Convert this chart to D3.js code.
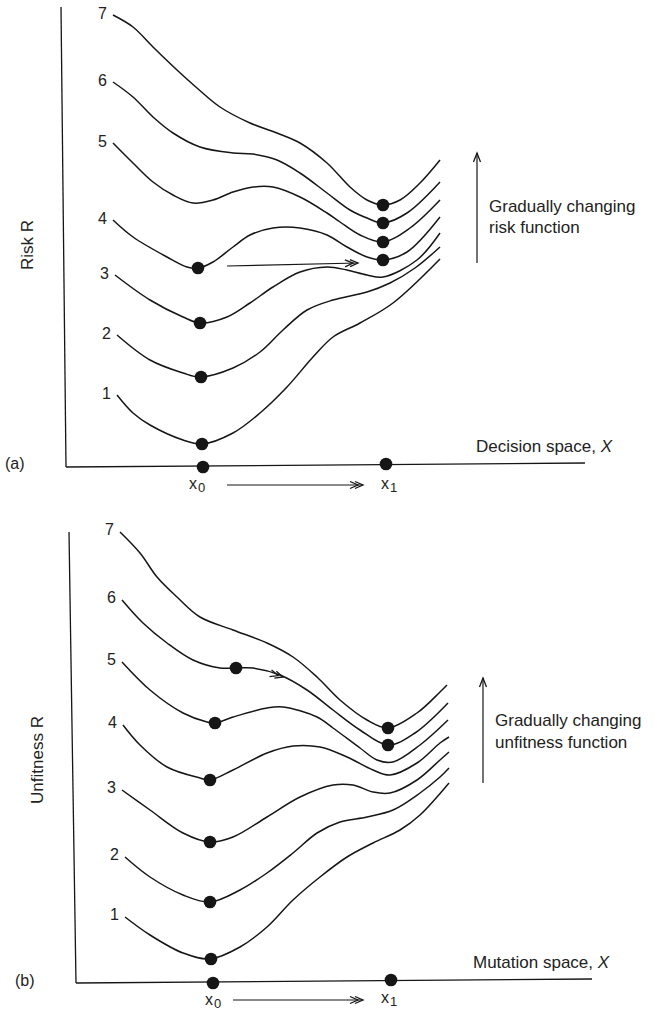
<!DOCTYPE html>
<html><head><meta charset="utf-8">
<script src="https://cdn.jsdelivr.net/npm/d3@7"></script>
<style>
body{margin:0;background:#fff;}
text{font-family:"Liberation Sans",Arial,Helvetica,sans-serif;fill:#222;}
</style></head><body>
<svg id="chart" width="655" height="1012"></svg>
<script>
// ---------- DATA (X along decision/mutation space, R = risk/unfitness) ----------
const curveLabels = ["1","2","3","4","5","6","7"];

// Panel (a): risk functions
const riskCurve1 = [[52,72],[68,54],[85,42],[118,27],[137,23],[168,34],[195,54],[222,80],[248,110],[268,130],[295,144],[328,164],[375,208]];
const riskCurve2 = [[52,132],[85,107],[118,94],[135,90],[168,99],[195,115],[218,137],[242,157],[268,167],[302,175],[325,184],[350,199],[375,220]];
const riskCurve3 = [[50,192],[85,167],[118,150],[135,144],[162,150],[185,164],[208,180],[235,195],[262,200],[282,197],[302,192],[318,190],[352,207],[375,234]];
const riskCurve4 = [[48,247],[68,230],[102,210],[122,200],[133,199],[148,205],[168,220],[185,232],[208,239],[235,239],[262,232],[282,220],[302,210],[318,207],[342,215],[375,250]];
const riskCurve5 = [[48,324],[68,304],[88,285],[108,272],[128,264],[148,267],[168,275],[188,280],[208,280],[235,270],[262,254],[275,245],[295,232],[318,225],[345,239],[375,267]];
const riskCurve6 = [[48,385],[68,370],[88,350],[108,334],[135,320],[168,314],[188,313],[212,307],[235,294],[262,274],[285,257],[302,249],[318,244],[342,254],[375,285]];
const riskCurve7 = [[48,452],[68,440],[88,420],[112,397],[132,379],[155,360],[185,344],[212,334],[235,324],[262,304],[285,280],[302,267],[318,262],[335,267],[355,284],[375,307]];
const riskDots = [[133,199],[135,144],[136,90],[137,23],[138,0],[318,262],[318,244],[318,225],[318,207],[321,3]];
const riskShift = [[162,201],[293,204]];
const riskAxisShift = [[162,-18],[298,-18]];
const riskTrend = [[412,204],[412,314]];

// Panel (b): unfitness functions
const unfitCurve1 = [[53,66],[78,48],[111,30],[138,24],[168,36],[195,56],[221,83],[248,106],[275,126],[301,140],[328,153],[348,168],[377,200]];
const unfitCurve2 = [[53,126],[78,106],[111,88],[138,81],[168,93],[195,110],[221,130],[245,150],[268,161],[295,166],[321,173],[348,190],[368,206],[377,215]];
const unfitCurve3 = [[50,193],[78,173],[111,150],[138,141],[161,146],[195,166],[228,186],[261,198],[281,198],[301,191],[318,190],[345,203],[368,223],[377,231]];
const unfitCurve4 = [[51,258],[68,238],[95,216],[128,205],[138,203],[161,213],[195,230],[221,237],[248,236],[275,226],[301,213],[318,208],[345,220],[368,240],[377,246]];
const unfitCurve5 = [[50,321],[78,293],[111,270],[135,261],[143,260],[161,266],[195,275],[211,276],[245,266],[261,255],[288,235],[305,223],[321,221],[348,238],[376,263]];
const unfitCurve6 = [[50,383],[71,360],[95,340],[121,323],[148,315],[164,315],[181,315],[208,308],[235,293],[261,273],[288,253],[316,238],[343,250],[376,280]];
const unfitCurve7 = [[48,451],[68,430],[85,406],[105,386],[128,366],[161,353],[195,340],[221,326],[245,306],[268,283],[295,263],[316,255],[345,270],[368,291],[375,298]];
const unfitDots = [[164,315],[143,260],[138,203],[138,141],[138,81],[139,24],[141,0],[316,255],[316,238],[319,3]];
const unfitPathArrow = [[181,315],[211,306]];
const unfitAxisShift = [[161,-17],[291,-17]];
const unfitTrend = [[411,200],[411,305]];

// ---------- DRAWING ----------
const svg = d3.select("#chart");
const INK = "#161616";

function chevrons(g, x, y, ang){
  g.append("path")
    .attr("transform", `translate(${x},${y}) rotate(${ang})`)
    .attr("d","M-8,-3.5L0,0L-8,3.5M-13,-3.5L-5,0L-13,3.5")
    .attr("fill","none").attr("stroke",INK).attr("stroke-width",1.3);
}

function panel(cfg){
  const g = svg.append("g");
  const x = d3.scaleLinear().domain([0,520]).range(cfg.xr);
  const y = d3.scaleLinear().domain([0,cfg.ymax]).range(cfg.yr);
  const line = d3.line().x(d=>x(d[0])).y(d=>y(d[1])).curve(d3.curveCatmullRom.alpha(0.5));

  // axes
  g.append("line").attr("x1",x(cfg.yAxis[0])).attr("y1",y(cfg.ymax - cfg.yTopGap))
    .attr("x2",x(cfg.yAxis[1])).attr("y2",y(0)).attr("stroke",INK).attr("stroke-width",1.3);
  g.append("line").attr("x1",x(cfg.yAxis[1])).attr("y1",y(0))
    .attr("x2",x(520)).attr("y2",y(cfg.xAxisTilt)).attr("stroke",INK).attr("stroke-width",1.3);

  // curves
  g.selectAll("path.curve").data(cfg.curves).join("path").attr("class","curve")
    .attr("d",line).attr("fill","none").attr("stroke",INK).attr("stroke-width",1.5);

  // curve labels
  g.selectAll("text.cl").data(cfg.curves).join("text").attr("class","cl")
    .attr("x",d=>x(d[0][0])-6).attr("y",d=>y(d[0][1])+cfg.labDy)
    .attr("text-anchor","end").attr("font-size",16)
    .text((d,i)=>curveLabels[i]);

  // dots
  g.selectAll("circle").data(cfg.dots).join("circle")
    .attr("cx",d=>x(d[0])).attr("cy",d=>y(d[1])).attr("r",6.3).attr("fill",INK);

  // shift arrows
  cfg.shifts.forEach(s=>{
    g.append("line").attr("x1",x(s[0][0])).attr("y1",y(s[0][1]))
      .attr("x2",x(s[1][0])).attr("y2",y(s[1][1])).attr("stroke",INK).attr("stroke-width",1.1);
    const ang = Math.atan2(y(s[1][1])-y(s[0][1]), x(s[1][0])-x(s[0][0]))*180/Math.PI;
    chevrons(g, x(s[1][0]), y(s[1][1]), ang);
  });
  if(cfg.pathArrow){
    const s = cfg.pathArrow;
    const ang = Math.atan2(y(s[1][1])-y(s[0][1]), x(s[1][0])-x(s[0][0]))*180/Math.PI;
    chevrons(g, x(s[1][0]), y(s[1][1]), ang);
  }

  // trend arrow
  const t = cfg.trend;
  const tx = x(t[0][0]), ty0 = y(t[0][1]), ty1 = y(t[1][1]);
  g.append("line").attr("x1",tx).attr("y1",ty0).attr("x2",tx).attr("y2",ty1).attr("stroke",INK).attr("stroke-width",1.2);
  g.append("path").attr("d",`M${tx-3.5},${ty1+9}L${tx},${ty1}L${tx+3.5},${ty1+9}`)
    .attr("fill","none").attr("stroke",INK).attr("stroke-width",1.3);

  // texts
  g.append("text").attr("x",tx+12).attr("y",cfg.legendY[0]).attr("font-size",cfg.fs).text("Gradually changing");
  g.append("text").attr("x",tx+12).attr("y",cfg.legendY[1]).attr("font-size",cfg.fs).text(cfg.legend2);

  const xt = g.append("text").attr("x",cfg.xTitle[0]).attr("y",cfg.xTitle[1]).attr("font-size",cfg.fs);
  xt.append("tspan").text(cfg.xTitleText + ", ");
  xt.append("tspan").attr("font-style","italic").text("X");

  g.append("text").attr("transform",`translate(${cfg.yTitle[0]},${cfg.yTitle[1]}) rotate(-90)`)
    .attr("text-anchor","middle").attr("font-size",cfg.fs).text(cfg.yTitleText);

  g.append("text").attr("x",cfg.tag[0]).attr("y",cfg.tag[1]).attr("font-size",16).text(cfg.tagText);

  cfg.xLabels.forEach(l=>{
    const tt = g.append("text").attr("x",l.x).attr("y",l.y).attr("font-size",16);
    tt.append("tspan").text("x");
    tt.append("tspan").attr("font-size",13).attr("dx",1).attr("dy",3).text(l.sub);
  });
}

panel({
  xr:[65,585], yr:[467,7], ymax:460, yTopGap:0, yAxis:[-4,1], xAxisTilt:4, labDy:4,
  curves:[riskCurve1,riskCurve2,riskCurve3,riskCurve4,riskCurve5,riskCurve6,riskCurve7],
  dots:riskDots, shifts:[riskShift,riskAxisShift], trend:riskTrend,
  legendY:[212,233], legend2:"risk function", fs:17,
  xTitle:[476,452], xTitleText:"Decision space",
  yTitle:[33,245], yTitleText:"Risk R",
  tag:[5,469], tagText:"(a)",
  xLabels:[{x:189,y:489,sub:"0"},{x:381,y:489,sub:"1"}]
});

panel({
  xr:[72,592], yr:[983,528], ymax:455, yTopGap:4, yAxis:[-3,4], xAxisTilt:4, labDy:3,
  curves:[unfitCurve1,unfitCurve2,unfitCurve3,unfitCurve4,unfitCurve5,unfitCurve6,unfitCurve7],
  dots:unfitDots, shifts:[unfitAxisShift], pathArrow:unfitPathArrow, trend:unfitTrend,
  legendY:[726,748], legend2:"unfitness function", fs:17,
  xTitle:[473,968], xTitleText:"Mutation space",
  yTitle:[43,760], yTitleText:"Unfitness R",
  tag:[15,986], tagText:"(b)",
  xLabels:[{x:205,y:1005,sub:"0"},{x:381,y:1003,sub:"1"}]
});
</script>
</body></html>
